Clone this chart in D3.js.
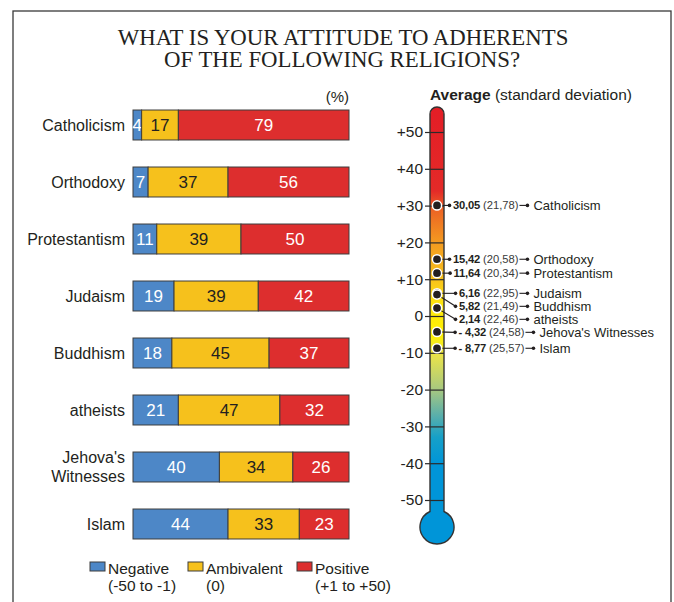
<!DOCTYPE html>
<html>
<head>
<meta charset="utf-8">
<script src="https://cdn.jsdelivr.net/npm/d3@7"></script>
<style>
  html, body { margin: 0; padding: 0; background: #fff; }
  svg { display: block; }
  text { fill: #231f20; }
</style>
</head>
<body>
<svg id="chart" width="674" height="602"></svg>
<script>
// Survey answers, share of respondents (%)
const categories = ["Catholicism", "Orthodoxy", "Protestantism", "Judaism", "Buddhism", "atheists", "Jehova's Witnesses", "Islam"];
const negative   = [4, 7, 11, 19, 18, 21, 40, 44];
const ambivalent = [17, 37, 39, 39, 45, 47, 34, 33];
const positive   = [79, 56, 50, 42, 37, 32, 26, 23];

// Mean score on the -50..+50 scale and its standard deviation
const averages = [30.05, 15.42, 11.64, 6.16, 5.82, 2.14, -4.32, -8.77];
const stdDevs  = [21.78, 20.58, 20.34, 22.95, 21.49, 22.46, 24.58, 25.57];

const thermoTicks = [-50, -40, -30, -20, -10, 0, 10, 20, 30, 40, 50];
const legendItems = ["Negative", "Ambivalent", "Positive"];
const legendRanges = ["(-50 to -1)", "(0)", "(+1 to +50)"];

const colors = { Negative: "#4d87c7", Ambivalent: "#f6c11c", Positive: "#dd2e2e" };
const textColors = { Negative: "#ffffff", Ambivalent: "#231f20", Positive: "#ffffff" };
const SANS = "'Liberation Sans', Arial, sans-serif";

const svg = d3.select("#chart");

// frame
svg.append("rect")
  .attr("x", 13).attr("y", 11).attr("width", 658).attr("height", 640)
  .attr("fill", "none").attr("stroke", "#3a3a3a").attr("stroke-width", 1.3);

// title
const title = svg.append("text")
  .attr("text-anchor", "middle")
  .style("font-family", "'Liberation Serif', 'Times New Roman', serif")
  .style("font-size", "22.8px");
title.append("tspan").attr("x", 343).attr("y", 45).text("WHAT IS YOUR ATTITUDE TO ADHERENTS");
title.append("tspan").attr("x", 342).attr("y", 67).text("OF THE FOLLOWING RELIGIONS?");

// ---------- stacked bars ----------
const rows = categories.map((c, i) => ({
  name: c, Negative: negative[i], Ambivalent: ambivalent[i], Positive: positive[i]
}));
const stack = d3.stack().keys(legendItems)(rows);

const x = d3.scaleLinear().domain([0, 100]).range([133, 349]);
const y = d3.scaleBand().domain(categories).range([96.5, 552.5])
  .paddingInner(0.474).paddingOuter(0.237);

svg.append("text")
  .attr("x", x(100)).attr("y", 102).attr("text-anchor", "end")
  .style("font-family", SANS).style("font-size", "15px").text("(%)");

const layers = svg.append("g").selectAll("g").data(stack).join("g");
layers.selectAll("rect")
  .data(d => d.map(v => ({ key: d.key, v })))
  .join("rect")
  .attr("x", d => x(d.v[0]))
  .attr("y", d => y(d.v.data.name))
  .attr("width", d => x(d.v[1]) - x(d.v[0]))
  .attr("height", y.bandwidth())
  .attr("fill", d => colors[d.key])
  .attr("stroke", "#3d3d3d").attr("stroke-width", 1);

layers.selectAll("text")
  .data(d => d.map(v => ({ key: d.key, v })))
  .join("text")
  .attr("x", d => (x(d.v[0]) + x(d.v[1])) / 2)
  .attr("y", d => y(d.v.data.name) + y.bandwidth() / 2)
  .attr("dy", "0.36em")
  .attr("text-anchor", "middle")
  .style("font-family", SANS).style("font-size", "17px")
  .style("fill", d => textColors[d.key])
  .text(d => d.v.data[d.key]);

// category labels (long names wrap onto two lines)
const catLabels = svg.append("g").selectAll("text").data(categories).join("text")
  .attr("text-anchor", "end")
  .style("font-family", SANS).style("font-size", "16px");
catLabels.each(function(c) {
  const lines = c.length > 14 ? c.split(" ") : [c];
  const cy = y(c) + y.bandwidth() / 2;
  lines.forEach((ln, j) => {
    d3.select(this).append("tspan")
      .attr("x", 125)
      .attr("y", cy + (j - (lines.length - 1) / 2) * 19)
      .attr("dy", "0.36em")
      .text(ln);
  });
});

// legend
const legendX = [90, 188, 297];
const lg = svg.append("g").selectAll("g").data(legendItems).join("g")
  .attr("transform", (d, i) => `translate(${legendX[i]},0)`);
lg.append("rect").attr("x", 0).attr("y", 562).attr("width", 15).attr("height", 9)
  .attr("fill", d => colors[d]).attr("stroke", "#3d3d3d").attr("stroke-width", 1);
lg.append("text").attr("x", 18).attr("y", 574)
  .style("font-family", SANS).style("font-size", "15.5px").text(d => d);
lg.append("text").attr("x", 18).attr("y", 591)
  .style("font-family", SANS).style("font-size", "15.5px").text((d, i) => legendRanges[i]);

// ---------- thermometer ----------
const yT = d3.scaleLinear().domain([-50, 50]).range([500, 132]);
const tubeL = 430, tubeR = 444, tubeC = (tubeL + tubeR) / 2, tubeRad = (tubeR - tubeL) / 2;
const tubeTop = 107;
const bulbCy = 527, bulbR = 17;
const joinY = bulbCy - Math.sqrt(bulbR * bulbR - tubeRad * tubeRad);
const gTop = tubeTop, gBottom = bulbCy + bulbR;

svg.append("text")
  .attr("x", 430).attr("y", 100)
  .style("font-family", SANS).style("font-size", "15.5px")
  .call(t => {
    t.append("tspan").style("font-weight", "bold").text("Average");
    t.append("tspan").text(" (standard deviation)");
  });

// colour scale of the tube along the value axis
const gradStops = [
  [55, "#e31e26"], [34, "#e42a28"], [29, "#ed6324"], [20, "#f39a20"],
  [10, "#f8c21b"], [3, "#fde70f"], [-5, "#fff100"], [-11, "#e7e24c"],
  [-20, "#a7c880"], [-27, "#5aafab"], [-33, "#16a0c8"], [-40, "#0095d8"], [-60, "#0095d8"]
];
const defs = svg.append("defs");
const grad = defs.append("linearGradient").attr("id", "thermoGrad")
  .attr("gradientUnits", "userSpaceOnUse")
  .attr("x1", 0).attr("x2", 0).attr("y1", gTop).attr("y2", gBottom);
grad.selectAll("stop").data(gradStops).join("stop")
  .attr("offset", d => Math.max(0, Math.min(1, (yT(d[0]) - gTop) / (gBottom - gTop))))
  .attr("stop-color", d => d[1]);

const tubePath = [
  `M${tubeL},${joinY}`,
  `L${tubeL},${tubeTop + tubeRad}`,
  `A${tubeRad},${tubeRad} 0 0 1 ${tubeR},${tubeTop + tubeRad}`,
  `L${tubeR},${joinY}`,
  `A${bulbR},${bulbR} 0 1 1 ${tubeL},${joinY}`,
  "Z"
].join(" ");
svg.append("path").attr("d", tubePath)
  .attr("fill", "url(#thermoGrad)")
  .attr("stroke", "#333").attr("stroke-width", 1.4);

// scale ticks crossing the tube
const axis = d3.axisLeft(yT).tickValues(thermoTicks).tickSize(19).tickPadding(2)
  .tickFormat(v => v > 0 ? "+" + v : String(v));
const axG = svg.append("g").attr("transform", `translate(${tubeR},0)`).call(axis);
axG.select(".domain").remove();
axG.selectAll(".tick line").attr("stroke", "#2b2b2b").attr("stroke-width", 1.2);
axG.selectAll(".tick text")
  .style("font-family", SANS).style("font-size", "15.5px").style("fill", "#231f20");

// value labels, pushed apart so they do not overlap
const fmt = v => {
  const s = d3.format(".2f")(Math.abs(v)).replace(".", ",");
  return v < 0 ? "- " + s : s;
};
const items = categories.map((c, i) => ({ name: c, avg: averages[i], sd: stdDevs[i], dotY: yT(averages[i]) }))
  .sort((a, b) => a.dotY - b.dotY);
const minGap = 13;
items.forEach((d, i) => {
  d.labelY = d.dotY;
  if (i > 0 && d.labelY < items[i - 1].labelY + minGap) d.labelY = items[i - 1].labelY + minGap;
});

const lab = svg.append("g");
items.forEach(d => {
  const g = lab.append("g");
  const valEnd = d.avg < 0 ? 486 : 480;
  const val = g.append("text")
    .attr("x", valEnd).attr("y", d.labelY).attr("dy", "0.36em").attr("text-anchor", "end")
    .style("font-family", SANS).style("font-size", "11.2px").style("font-weight", "bold")
    .style("letter-spacing", "-0.2px")
    .text(fmt(d.avg));
  const valStart = valEnd - val.node().getComputedTextLength();
  const sdT = g.append("text")
    .attr("x", valEnd + 3).attr("y", d.labelY).attr("dy", "0.36em")
    .style("font-family", SANS).style("font-size", "11.2px").style("fill", "#3a3a3a")
    .text(`(${d3.format(".2f")(d.sd).replace(".", ",")})`);
  const sdEnd = valEnd + 3 + sdT.node().getComputedTextLength();
  const sx = valStart - 3.5;
  // leader from the tube to the value
  g.append("line")
    .attr("x1", tubeC).attr("y1", d.dotY).attr("x2", sx).attr("y2", d.labelY)
    .attr("stroke", "#231f20").attr("stroke-width", 1.1);
  g.append("circle").attr("cx", sx).attr("cy", d.labelY).attr("r", 1.8).attr("fill", "#231f20");
  // short arrow to the name
  g.append("line")
    .attr("x1", sdEnd + 1).attr("y1", d.labelY).attr("x2", sdEnd + 9).attr("y2", d.labelY)
    .attr("stroke", "#231f20").attr("stroke-width", 1.1);
  g.append("circle").attr("cx", sdEnd + 9).attr("cy", d.labelY).attr("r", 1.8).attr("fill", "#231f20");
  g.append("text")
    .attr("x", sdEnd + 15).attr("y", d.labelY).attr("dy", "0.36em")
    .style("font-family", SANS).style("font-size", "13px")
    .text(d.name);
});

// markers on the tube
svg.append("g").selectAll("circle").data(items).join("circle")
  .attr("cx", tubeC).attr("cy", d => d.dotY).attr("r", 4.6)
  .attr("fill", "#231f20").attr("stroke", "#ffffff").attr("stroke-width", 1.5);
</script>
</body>
</html>
